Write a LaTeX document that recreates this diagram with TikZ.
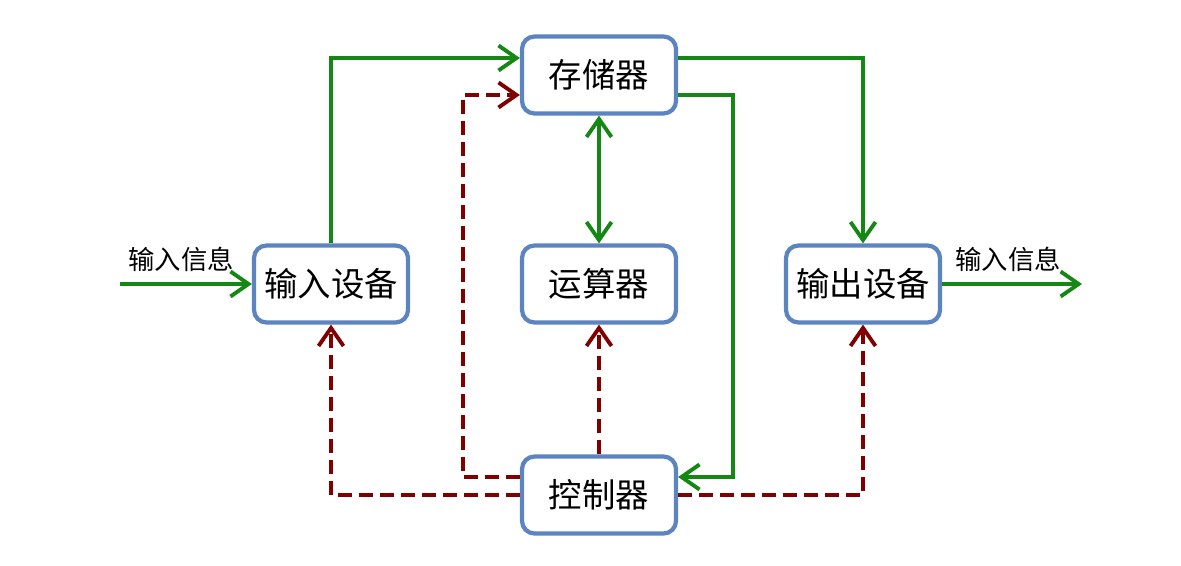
\documentclass[tikz,border=0pt]{standalone}
\usepackage{fontspec}
\usepackage{tikz}
\usetikzlibrary{positioning,arrows.meta}
\newfontfamily\cjk{Noto Sans CJK SC}
\definecolor{boxblue}{RGB}{91,132,192}
\definecolor{flowgreen}{RGB}{20,135,20}
\definecolor{ctlred}{RGB}{128,0,0}

\begin{document}
\begin{tikzpicture}[x=1cm,y=1cm,
  >={Straight Barb[length=0.36cm,width=0.5cm]},
  unit/.style={draw=boxblue, line width=2.4pt, rounded corners=0.25cm, fill=white,
    minimum width=3.08cm, minimum height=1.54cm, inner sep=0pt,
    font=\cjk\fontsize{19}{22}\selectfont},
  flow/.style={draw=flowgreen, line width=2.2pt},
  ctl/.style={draw=ctlred, line width=2.2pt, dash pattern=on 0.28cm off 0.14cm},
  tag/.style={font=\cjk\fontsize{15}{18}\selectfont}]
  \useasboundingbox (0,0) rectangle (23.62,-11.32);
  % units
  \node[unit] (mem)  at (11.98,-1.5)  {存储器};
  \node[unit] (inp)  at (6.62,-5.68)  {输入设备};
  \node[unit] (alu)  at (11.98,-5.68) {运算器};
  \node[unit] (outp) at (17.26,-5.68) {输出设备};
  \node[unit] (ctrl) at (11.98,-9.9)  {控制器};
  \coordinate (src)  at (2.4,-5.68);
  \coordinate (sink) at (21.64,-5.68);
  \node[tag] (intag)  at (3.62,-5.18)  {输入信息};
  \node[tag] (outtag) at (20.16,-5.18) {输入信息};
  % data flow
  \draw[flow,->] (src) -- (inp);
  \draw[flow,->] (inp.north) |- ([yshift=0.34cm]mem.west);
  \draw[flow,->] ([yshift=0.34cm]mem.east) -| (outp.north);
  \draw[flow,->] ([yshift=-0.4cm]mem.east) -- ++(1.1,0) |- ([yshift=0.36cm]ctrl.east);
  \draw[flow,<->] (mem) -- (alu);
  \draw[flow,->] (outp) -- (sink);
  % control signals
  \draw[ctl,->] ([yshift=0.36cm]ctrl.west) -- ++(-1.14,0) |- ([yshift=-0.4cm]mem.west);
  \draw[ctl,->] (ctrl) -- (alu);
  \draw[ctl,->] (ctrl.west) -| (inp.south);
  \draw[ctl,->] (ctrl.east) -| (outp.south);
\end{tikzpicture}
\end{document}
